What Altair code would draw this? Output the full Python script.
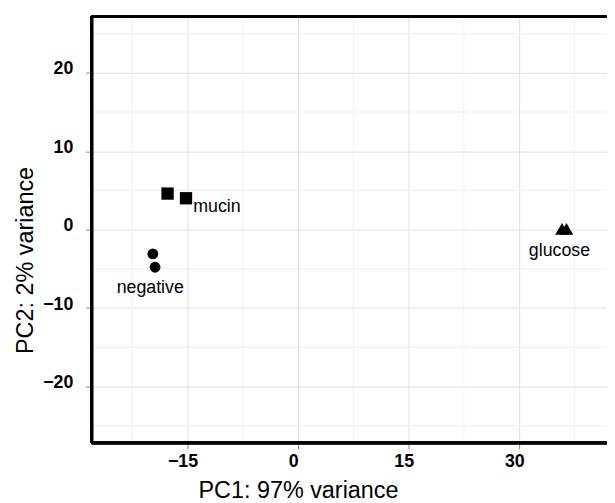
import altair as alt
import pandas as pd

# ---- data ----
groups = ["mucin", "mucin", "negative", "negative", "glucose", "glucose"]
pc1 = [-17.7, -15.2, -19.7, -19.4, 35.8, 36.4]
pc2 = [4.6, 4.0, -3.1, -4.8, 0.1, 0.1]

label_text = ["mucin", "negative", "glucose"]
label_x = [-11.0, -20.05, 35.45]
label_y = [2.2, -8.1, -3.4]

x_ticks = [-15, 0, 15, 30]
y_ticks = [-20, -10, 0, 10, 20]
x_minor = [-22.5, -7.5, 7.5, 22.5, 37.5]
y_minor = [-25, -15, -5, 5, 15, 25]

points = pd.DataFrame({"PC1": pc1, "PC2": pc2, "group": groups})
labels = pd.DataFrame({"x": label_x, "y": label_y, "text": label_text})
xminor_df = pd.DataFrame({"v": x_minor})
yminor_df = pd.DataFrame({"v": y_minor})

W, H = 522, 432
FONT = "Liberation Sans"

xscale = alt.Scale(domain=[-28.0, 41.9], nice=False, zero=False)
yscale = alt.Scale(domain=[-27.2, 27.2], nice=False, zero=False)

xaxis = alt.Axis(
    values=x_ticks,
    title="PC1: 97% variance",
    grid=True,
    gridColor="#e0e0e0",
    gridWidth=1,
    domain=False,
    tickColor="#888888",
    tickSize=6,
    labelFont=FONT,
    labelFontSize=18,
    labelFontWeight="bold",
    labelColor="black",
    labelPadding=4,
    labelOffset=-5,
    titleFont=FONT,
    titleFontSize=23.7,
    titleFontWeight="normal",
    titleColor="black",
    titleX=209,
    titleY=55.5,
    titleAlign="center",
    titleBaseline="alphabetic",
    titleAnchor="start",
)
yaxis = alt.Axis(
    values=y_ticks,
    title="PC2: 2% variance",
    grid=True,
    gridColor="#e0e0e0",
    gridWidth=1,
    domain=False,
    tickColor="#888888",
    tickSize=6,
    labelFont=FONT,
    labelFontSize=18,
    labelFontWeight="bold",
    labelColor="black",
    labelPadding=13,
    labelBaseline="middle",
    labelOffset=-4,
    titleFont=FONT,
    titleFontSize=23.7,
    titleFontWeight="normal",
    titleColor="black",
    titleX=-59.4,
    titleY=246.7,
    titleAlign="center",
    titleBaseline="alphabetic",
    titleAngle=270,
    titleAnchor="start",
)

minor_v = alt.Chart(xminor_df).mark_rule(color="#f1f1f1", strokeWidth=1).encode(
    x=alt.X("v:Q", scale=xscale, axis=xaxis)
)
minor_h = alt.Chart(yminor_df).mark_rule(color="#f1f1f1", strokeWidth=1).encode(
    y=alt.Y("v:Q", scale=yscale, axis=yaxis)
)

pts = alt.Chart(points).mark_point(filled=True, opacity=1, color="black").encode(
    x=alt.X("PC1:Q", scale=xscale, axis=xaxis),
    y=alt.Y("PC2:Q", scale=yscale, axis=yaxis),
    shape=alt.Shape(
        "group:N",
        scale=alt.Scale(
            domain=["glucose", "mucin", "negative"],
            range=["triangle-up", "square", "circle"],
        ),
        legend=None,
    ),
    size=alt.Size(
        "group:N",
        scale=alt.Scale(domain=["glucose", "mucin", "negative"], range=[190, 121, 110]),
        legend=None,
    ),
)

txt = alt.Chart(labels).mark_text(
    font=FONT, fontSize=18, color="black", align="center", baseline="alphabetic"
).encode(
    x=alt.X("x:Q", scale=xscale, axis=xaxis),
    y=alt.Y("y:Q", scale=yscale, axis=yaxis),
    text="text:N",
)

border_left = alt.Chart(points).mark_rule(color="black", strokeWidth=3).encode(
    x=alt.value(0), y=alt.value(0), y2=alt.value(H)
)
border_top = alt.Chart(points).mark_rule(color="black", strokeWidth=3).encode(
    x=alt.value(0), x2=alt.value(W + 5), y=alt.value(0)
)
border_bottom = alt.Chart(points).mark_rule(color="black", strokeWidth=3).encode(
    x=alt.value(0), x2=alt.value(W + 5), y=alt.value(H)
)

chart = (
    alt.layer(minor_v, minor_h, pts, txt, border_left, border_top, border_bottom)
    .properties(
        width=W,
        height=H,
        autosize=alt.AutoSizeParams(type="none"),
        padding={"left": 84.7, "top": 5.3, "right": 0, "bottom": 58},
        background="white",
    )
    .configure_view(stroke=None)
)

chart.save("out.html", embed_options={"renderer": "svg", "actions": False})
